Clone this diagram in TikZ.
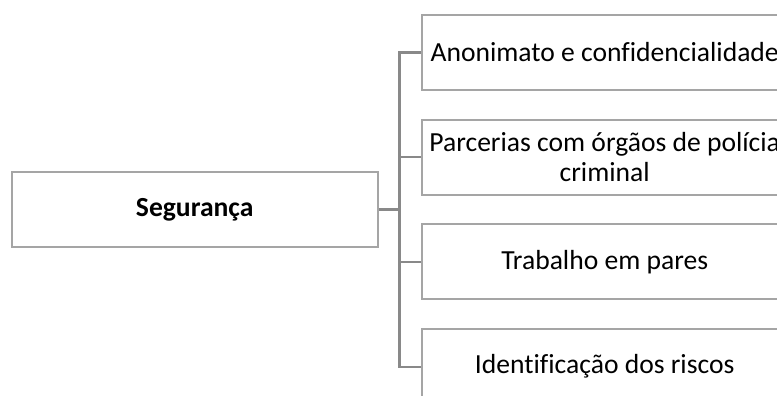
\documentclass[tikz,border=0pt]{standalone}
\usepackage{fontspec}
\setmainfont{Carlito}[Ligatures={NoCommon}]
\definecolor{boxgray}{RGB}{165,165,165}
\definecolor{linegray}{RGB}{137,137,137}
\begin{document}
\begin{tikzpicture}[x=1pt,y=-1pt,
  box/.style={draw=boxgray, line width=2pt, minimum width=366pt, minimum height=75pt,
    inner sep=0pt, align=center, font=\fontsize{27.6pt}{30pt}\selectfont},
  conn/.style={draw=linegray, line width=2.4pt}]
\useasboundingbox (0,0) rectangle (777,396);
\clip (0,0) rectangle (777,396);
\node[box, font=\fontsize{27.6pt}{30pt}\selectfont\bfseries] (seg) at (194.7,209.5) {Segurança};
\node[box] (b1) at (604.7,52.5) {Anonimato e confidencialidade};
\node[box] (b2) at (604.7,157) {Parcerias com órgãos de polícia\\criminal};
\node[box] (b3) at (604.7,261.8) {Trabalho em pares};
\node[box] (b4) at (604.7,366.7) {Identificação dos riscos};
\coordinate (j) at (399.3,209.5);
\draw[conn] (seg.east) -- (j);
\draw[conn] (b1.west) -- (b1.west -| j) -- (b4.west -| j) -- (b4.west);
\draw[conn] (b2.west) -- (b2.west -| j);
\draw[conn] (b3.west) -- (b3.west -| j);
\end{tikzpicture}
\end{document}
